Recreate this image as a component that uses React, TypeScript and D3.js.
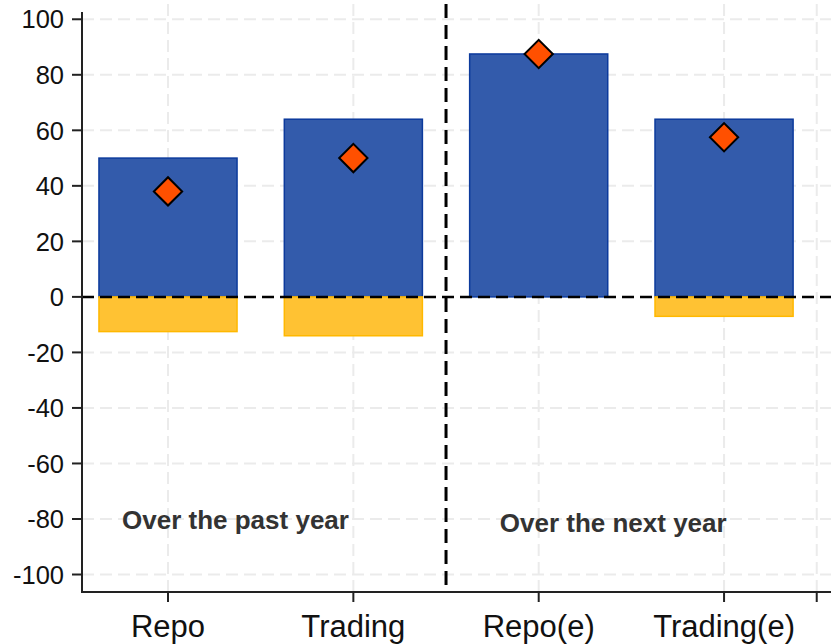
import React from 'react'
import * as d3 from 'd3'

const categories = ['Repo', 'Trading', 'Repo(e)', 'Trading(e)']
const positive = [50, 64, 87.5, 64]
const negative = [-12.5, -14, 0, -7]
const net = [38, 50, 87.5, 57.5]
const yTicks = [-100, -80, -60, -40, -20, 0, 20, 40, 60, 80, 100]
const xTicks = [1, 2, 3, 4, 4.5]
const notes = [
	{ text: 'Over the past year', x: 0.752, y: -80.5 },
	{ text: 'Over the next year', x: 2.79, y: -81.5 }
]

const width = 831
const height = 644
const marginLeft = 82
const marginRight = 0
const marginTop = 4
const marginBottom = 52
const barWidth = 0.745
const font = '"Liberation Sans", Arial, sans-serif'

const App = () => {
	const x = d3
		.scaleLinear()
		.domain([0.536, 4.577])
		.range([marginLeft, width - marginRight])
	const y = d3
		.scaleLinear()
		.domain([-106.3, 105.5])
		.range([height - marginBottom, marginTop])

	const bottom = height - marginBottom
	const divider = x(2.5)
	const diamond = d3.symbol(d3.symbolSquare, 400)

	return (
		<svg
			width={width}
			height={height}
			style={{ position: 'absolute', left: 0, top: 0, background: '#fff' }}
			fontFamily={font}
		>
			{/* grid */}
			<g stroke="#ebebeb" strokeWidth={2} strokeDasharray="12 6">
				{yTicks.map(t => (
					<line key={'gy' + t} x1={marginLeft} x2={width} y1={y(t)} y2={y(t)} />
				))}
				{xTicks.map(t => (
					<line key={'gx' + t} x1={x(t)} x2={x(t)} y1={marginTop} y2={bottom} />
				))}
			</g>

			{/* bars */}
			{categories.map((c, i) => (
				<g key={c}>
					<rect
						x={x(i + 1 - barWidth / 2)}
						width={x(barWidth) - x(0)}
						y={y(positive[i])}
						height={y(0) - y(positive[i])}
						fill="#335bab"
						stroke="#0c3a9c"
						strokeWidth={1.5}
					/>
					{negative[i] < 0 && (
						<rect
							x={x(i + 1 - barWidth / 2)}
							width={x(barWidth) - x(0)}
							y={y(0)}
							height={y(negative[i]) - y(0)}
							fill="#ffc233"
							stroke="#ffb800"
							strokeWidth={1.5}
						/>
					)}
				</g>
			))}

			{/* zero line + divider */}
			<line
				x1={marginLeft}
				x2={width}
				y1={y(0)}
				y2={y(0)}
				stroke="#000"
				strokeWidth={2.5}
				strokeDasharray="12 6"
			/>
			<line
				x1={divider}
				x2={divider}
				y1={marginTop}
				y2={bottom}
				stroke="#000"
				strokeWidth={3}
				strokeDasharray="14 7"
			/>

			{/* diamonds */}
			{net.map((v, i) => (
				<path
					key={'d' + i}
					d={diamond() as string}
					transform={`translate(${x(i + 1)},${y(v)}) rotate(45)`}
					fill="#ff5000"
					stroke="#000"
					strokeWidth={2}
				/>
			))}

			{/* y axis */}
			<line x1={marginLeft} x2={marginLeft} y1={marginTop + 8} y2={bottom} stroke="#222" strokeWidth={2} />
			{yTicks.map(t => (
				<g key={'ty' + t} transform={`translate(${marginLeft},${y(t)})`}>
					<line x1={-10} x2={0} stroke="#222" strokeWidth={2} />
					<text x={-18} dy="0.36em" textAnchor="end" fontSize={25.5} fill="#111">
						{t}
					</text>
				</g>
			))}

			{/* x axis */}
			<line x1={marginLeft - 1} x2={width} y1={bottom} y2={bottom} stroke="#222" strokeWidth={2} />
			{xTicks.map((t, i) => (
				<g key={'tx' + t} transform={`translate(${x(t)},${bottom})`}>
					<line y1={0} y2={10} stroke="#222" strokeWidth={2} />
					{categories[i] && (
						<text y={45} textAnchor="middle" fontSize={31} fill="#111">
							{categories[i]}
						</text>
					)}
				</g>
			))}

			{/* notes */}
			{notes.map(n => (
				<text
					key={n.text}
					x={x(n.x)}
					y={y(n.y)}
					dy="0.35em"
					fontSize={26}
					fontWeight="bold"
					fill="#333"
				>
					{n.text}
				</text>
			))}
		</svg>
	)
}

export default App
